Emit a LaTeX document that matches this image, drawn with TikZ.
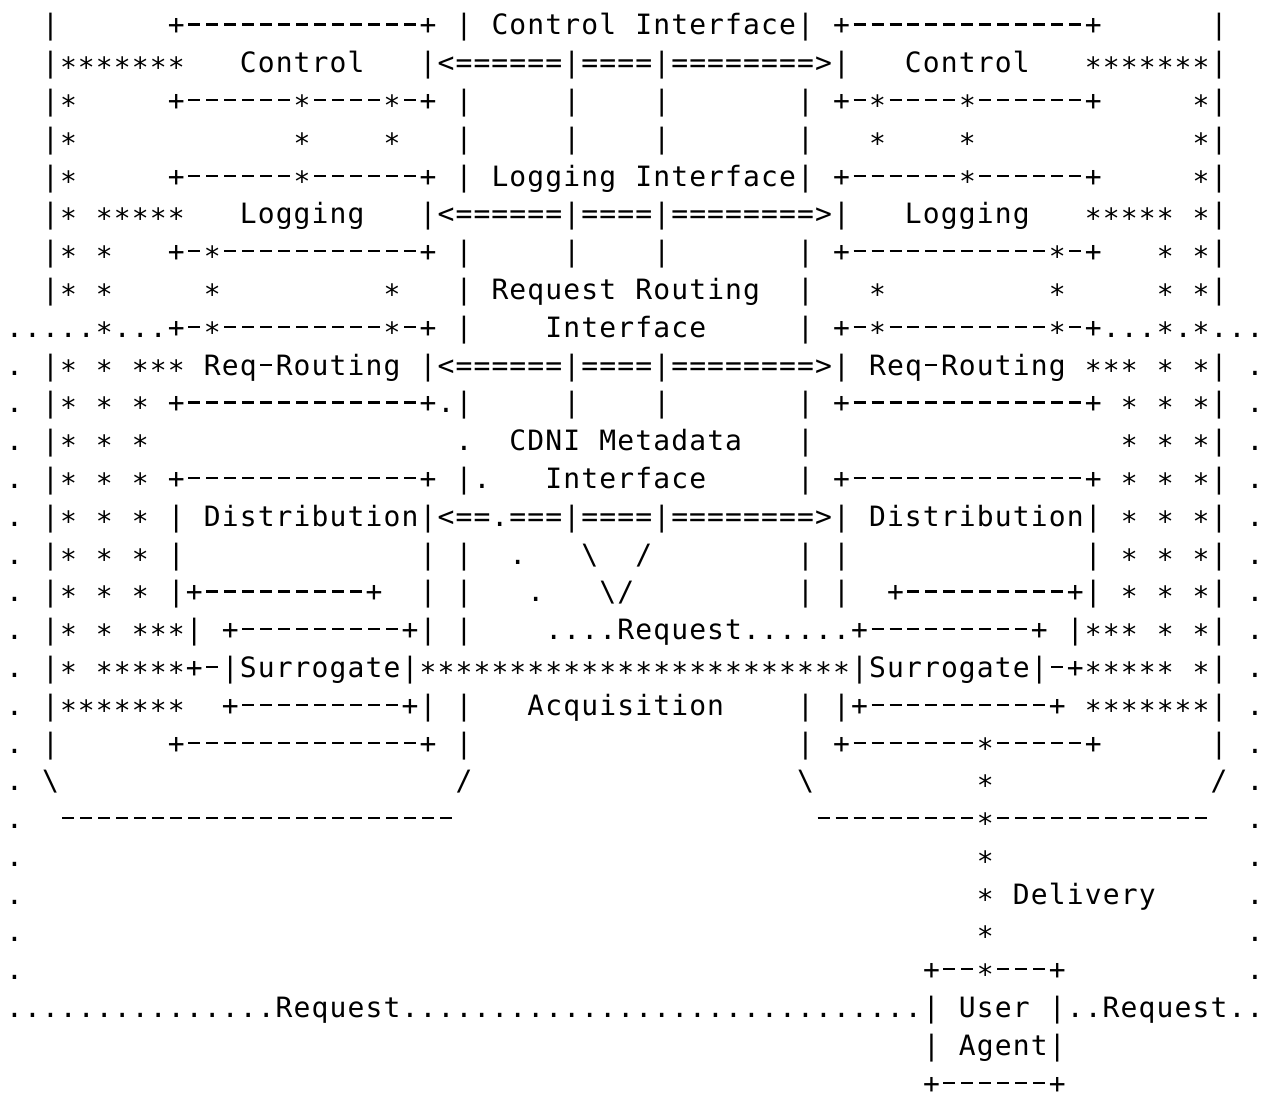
\documentclass[tikz,border=0pt]{standalone}
\usepackage{fontspec}
\setmonofont{DejaVu Sans Mono}
\newlength\cw
\setlength\cw{17.98pt}
\newcount\rc
\newcommand\glyph[1]{\ifx#1*\raisebox{-5pt}{*}\else\ifx#1-\rule[9.3pt]{12pt}{2.2pt}\else#1\fi\fi}
\newcommand\cells[1]{\ifx#1\relax\else\makebox[\cw]{\glyph{#1}}\expandafter\cells\fi}
\newcommand\seg[2]{\rlap{\hspace*{#1\cw}\cells#2\relax}}
\newcommand\run[3]{\rlap{\hspace*{#1\cw}\rc=0 \loop\ifnum\rc<#2 \makebox[\cw]{\glyph{#3}}\advance\rc by 1 \repeat}}
\newcommand\bs{\textbackslash}
\newcommand\R[3]{\node[rowtext] (#2) at (5,{1065-37.79*(#1-1)}) {#3};}
\begin{document}
\begin{tikzpicture}[x=1pt,y=1pt,
  rowtext/.style={anchor=base west, inner sep=0pt, outer sep=0pt, font=\ttfamily\fontsize{28}{30}\selectfont}]
\fill[white] (0,0) rectangle (1263,1100);
\useasboundingbox (0,0) rectangle (1263,1100);
\R{1}{r1}{\seg{2}{|}\seg{9}{+}\run{10}{13}{-}\seg{23}{+}\seg{25}{|~Control~Interface|}\seg{46}{+}\run{47}{13}{-}\seg{60}{+}\seg{67}{|}}
\R{2}{r2}{\seg{2}{|}\run{3}{7}{*}\seg{13}{Control}\seg{23}{|<}\run{25}{6}{=}\seg{31}{|====|}\run{37}{8}{=}\seg{45}{>|}\seg{50}{Control}\run{60}{7}{*}\seg{67}{|}}
\R{3}{r3}{\seg{2}{|*}\seg{9}{+}\run{10}{6}{-}\seg{16}{*----*-+}\seg{25}{|}\seg{31}{|}\seg{36}{|}\seg{44}{|}\seg{46}{+-*----*}\run{54}{6}{-}\seg{60}{+}\seg{66}{*|}}
\R{4}{r4}{\seg{2}{|*}\seg{16}{*}\seg{21}{*}\seg{25}{|}\seg{31}{|}\seg{36}{|}\seg{44}{|}\seg{48}{*}\seg{53}{*}\seg{66}{*|}}
\R{5}{r5}{\seg{2}{|*}\seg{9}{+}\run{10}{6}{-}\seg{16}{*}\run{17}{6}{-}\seg{23}{+}\seg{25}{|~Logging~Interface|}\seg{46}{+}\run{47}{6}{-}\seg{53}{*}\run{54}{6}{-}\seg{60}{+}\seg{66}{*|}}
\R{6}{r6}{\seg{2}{|*~*****}\seg{13}{Logging}\seg{23}{|<}\run{25}{6}{=}\seg{31}{|====|}\run{37}{8}{=}\seg{45}{>|}\seg{50}{Logging}\seg{60}{*****~*|}}
\R{7}{r7}{\seg{2}{|*~*}\seg{9}{+-*}\run{12}{11}{-}\seg{23}{+}\seg{25}{|}\seg{31}{|}\seg{36}{|}\seg{44}{|}\seg{46}{+}\run{47}{11}{-}\seg{58}{*-+}\seg{64}{*~*|}}
\R{8}{r8}{\seg{2}{|*~*}\seg{11}{*}\seg{21}{*}\seg{25}{|~Request~Routing}\seg{44}{|}\seg{48}{*}\seg{58}{*}\seg{64}{*~*|}}
\R{9}{r9}{\run{0}{5}{.}\seg{5}{*...+-*}\run{12}{9}{-}\seg{21}{*-+~|}\seg{30}{Interface}\seg{44}{|~+-*}\run{49}{9}{-}\seg{58}{*-+...*.*...}}
\R{10}{r10}{\seg{0}{.}\seg{2}{|*~*~***}\seg{11}{Req-Routing}\seg{23}{|<}\run{25}{6}{=}\seg{31}{|====|}\run{37}{8}{=}\seg{45}{>|}\seg{48}{Req-Routing}\seg{60}{***~*~*|}\seg{69}{.}}
\R{11}{r11}{\seg{0}{.}\seg{2}{|*~*~*}\seg{9}{+}\run{10}{13}{-}\seg{23}{+.|}\seg{31}{|}\seg{36}{|}\seg{44}{|}\seg{46}{+}\run{47}{13}{-}\seg{60}{+~*~*~*|}\seg{69}{.}}
\R{12}{r12}{\seg{0}{.}\seg{2}{|*~*~*}\seg{25}{.}\seg{28}{CDNI~Metadata}\seg{44}{|}\seg{62}{*~*~*|}\seg{69}{.}}
\R{13}{r13}{\seg{0}{.}\seg{2}{|*~*~*}\seg{9}{+}\run{10}{13}{-}\seg{23}{+~|.}\seg{30}{Interface}\seg{44}{|}\seg{46}{+}\run{47}{13}{-}\seg{60}{+~*~*~*|}\seg{69}{.}}
\R{14}{r14}{\seg{0}{.}\seg{2}{|*~*~*~|}\seg{11}{Distribution|<==.===|====|}\run{37}{8}{=}\seg{45}{>|}\seg{48}{Distribution|~*~*~*|}\seg{69}{.}}
\R{15}{r15}{\seg{0}{.}\seg{2}{|*~*~*~|}\seg{23}{|~|}\seg{28}{.}\seg{32}{\bs}\seg{35}{/}\seg{44}{|~|}\seg{60}{|~*~*~*|}\seg{69}{.}}
\R{16}{r16}{\seg{0}{.}\seg{2}{|*~*~*~|+}\run{11}{9}{-}\seg{20}{+}\seg{23}{|~|}\seg{29}{.}\seg{33}{\bs/}\seg{44}{|~|}\seg{49}{+}\run{50}{9}{-}\seg{59}{+|~*~*~*|}\seg{69}{.}}
\R{17}{r17}{\seg{0}{.}\seg{2}{|*~*~***|~+}\run{13}{9}{-}\seg{22}{+|~|}\seg{30}{....Request......+}\run{48}{9}{-}\seg{57}{+~|***~*~*|}\seg{69}{.}}
\R{18}{r18}{\seg{0}{.}\seg{2}{|*~*****+-|Surrogate|}\run{23}{24}{*}\seg{47}{|Surrogate|-+*****~*|}\seg{69}{.}}
\R{19}{r19}{\seg{0}{.}\seg{2}{|*******~~+}\run{13}{9}{-}\seg{22}{+|~|}\seg{29}{Acquisition}\seg{44}{|~|+}\run{48}{10}{-}\seg{58}{+~*******|}\seg{69}{.}}
\R{20}{r20}{\seg{0}{.}\seg{2}{|}\seg{9}{+}\run{10}{13}{-}\seg{23}{+~|}\seg{44}{|~+}\run{47}{7}{-}\seg{54}{*}\run{55}{5}{-}\seg{60}{+}\seg{67}{|}\seg{69}{.}}
\R{21}{r21}{\seg{0}{.}\seg{2}{\bs}\seg{25}{/}\seg{44}{\bs}\seg{54}{*}\seg{67}{/}\seg{69}{.}}
\R{22}{r22}{\seg{0}{.}\run{3}{22}{-}\run{45}{9}{-}\seg{54}{*}\run{55}{12}{-}\seg{69}{.}}
\R{23}{r23}{\seg{0}{.}\seg{54}{*}\seg{69}{.}}
\R{24}{r24}{\seg{0}{.}\seg{54}{*~Delivery}\seg{69}{.}}
\R{25}{r25}{\seg{0}{.}\seg{54}{*}\seg{69}{.}}
\R{26}{r26}{\seg{0}{.}\seg{51}{+--*---+}\seg{69}{.}}
\R{27}{r27}{\run{0}{15}{.}\seg{15}{Request}\run{22}{29}{.}\seg{51}{|~User~|..Request..}}
\R{28}{r28}{\seg{51}{|~Agent|}}
\R{29}{r29}{\seg{51}{+}\run{52}{6}{-}\seg{58}{+}}
\end{tikzpicture}
\end{document}
